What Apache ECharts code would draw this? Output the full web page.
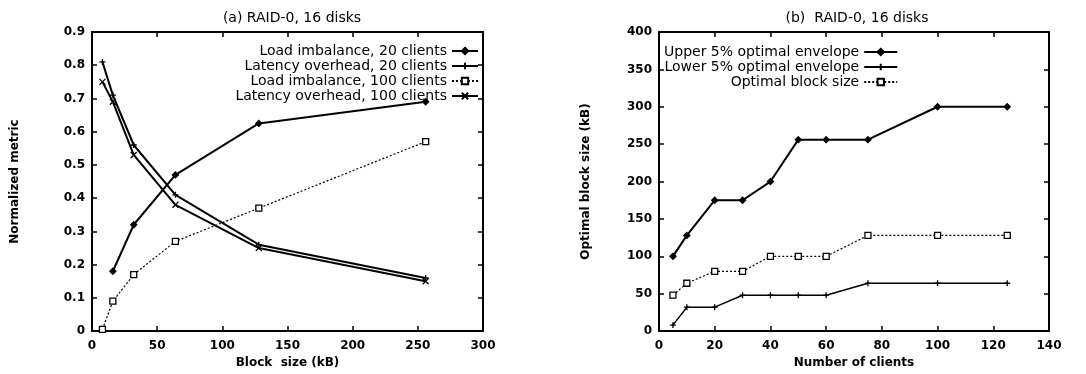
<!DOCTYPE html>
<html><head><meta charset="utf-8">
<script src="https://cdn.jsdelivr.net/npm/echarts@6/dist/echarts.min.js"></script>
<style>html,body{margin:0;padding:0;background:#fff}#c{width:1086px;height:374px}</style>
</head><body><div id="c"></div>
<script>
// ---- Panel (a) data ----
const blockSizes = [8, 16, 32, 64, 128, 256];
const loadImb20 = [null, 0.18, 0.32, 0.47, 0.625, 0.69];
const latOver20 = [0.81, 0.71, 0.56, 0.41, 0.26, 0.16];
const loadImb100 = [0.005, 0.09, 0.17, 0.27, 0.37, 0.57];
const latOver100 = [0.75, 0.69, 0.53, 0.38, 0.25, 0.15];
const namesA = ['Load imbalance, 20 clients', 'Latency overhead, 20 clients', 'Load imbalance, 100 clients', 'Latency overhead, 100 clients'];
// ---- Panel (b) data ----
const clients = [5, 10, 20, 30, 40, 50, 60, 75, 100, 125];
const upperEnv = [100, 128, 175, 175, 200, 256, 256, 256, 300, 300];
const lowerEnv = [8, 32, 32, 48, 48, 48, 48, 64, 64, 64];
const optimalBS = [48, 64, 80, 80, 100, 100, 100, 128, 128, 128];
const namesB = ['Upper 5% optimal envelope', 'Lower 5% optimal envelope', 'Optimal block size'];
const titleA = '(a) RAID-0, 16 disks';
const titleB = '(b)  RAID-0, 16 disks';

const FONT = '"DejaVu Sans", sans-serif';
const pair = (xs, ys) => xs.map((x, i) => [x, ys[i]]).filter(p => p[1] !== null);
const PLUS = 'path://M0,5L10,5M5,0L5,10';
const CROSS = 'path://M0,0L10,10M10,0L0,10';

const axisLine = {show: true, onZero: false, lineStyle: {color: '#000', width: 2}};
const tick = {show: true, inside: true, length: 5, lineStyle: {color: '#000', width: 1.5}};
const lbl = {color: '#000', fontFamily: FONT, fontSize: 12, fontWeight: 'bold'};

function mkX(gi, min, max, interval, name) {
  return [{
    gridIndex: gi, type: 'value', min, max, interval, position: 'bottom',
    axisLine, axisTick: tick, splitLine: {show: false}, axisLabel: Object.assign({margin: 9}, lbl),
    name, nameLocation: 'middle', nameGap: 25,
    nameTextStyle: {color: '#000', fontFamily: FONT, fontSize: 12, fontWeight: 'bold'}
  }, {
    gridIndex: gi, type: 'value', min, max, interval, position: 'top',
    axisLine, axisTick: tick, splitLine: {show: false}, axisLabel: {show: false}
  }];
}
function mkY(gi, min, max, interval, name, gap) {
  return [{
    gridIndex: gi, type: 'value', min, max, interval, position: 'left',
    axisLine, axisTick: tick, splitLine: {show: false}, axisLabel: Object.assign({margin: 7}, lbl),
    name, nameLocation: 'middle', nameGap: gap, nameRotate: 90,
    nameTextStyle: {color: '#000', fontFamily: FONT, fontSize: 12, fontWeight: 'bold'}
  }, {
    gridIndex: gi, type: 'value', min, max, interval, position: 'right',
    axisLine, axisTick: tick, splitLine: {show: false}, axisLabel: {show: false}
  }];
}

function ser(name, xi, yi, data, sym, size, dotted, width, fill) {
  return {
    name, type: 'line', xAxisIndex: xi, yAxisIndex: yi, data,
    symbol: sym, symbolSize: size, showSymbol: true,
    lineStyle: {color: '#000', width: width, type: dotted ? [2, 2] : 'solid'},
    itemStyle: {color: fill, borderColor: '#000', borderWidth: 1.3},
    animation: false
  };
}

const legendText = {color: '#000', fontFamily: FONT, fontSize: 14};

const option = {
  backgroundColor: '#fff',
  animation: false,
  title: [
    {text: titleA, left: 287, top: 6, textAlign: 'center', textStyle: {fontFamily: FONT, fontSize: 14, fontWeight: 'normal', color: '#000'}},
    {text: titleB, left: 852, top: 6, textAlign: 'center', textStyle: {fontFamily: FONT, fontSize: 14, fontWeight: 'normal', color: '#000'}}
  ],
  grid: [
    {left: 92, right: 603, top: 32, bottom: 41, show: false},
    {left: 659, right: 37, top: 32, bottom: 41, show: false}
  ],
  xAxis: [...mkX(0, 0, 300, 50, 'Block  size (kB)'), ...mkX(1, 0, 140, 20, 'Number of clients')],
  yAxis: [...mkY(0, 0, 0.9, 0.1, 'Normalized metric', 71), ...mkY(1, 0, 400, 50, 'Optimal block size (kB)', 67)],
  legend: [
    {data: namesA, orient: 'vertical', right: 1086 - 479, top: 44, align: 'right', itemWidth: 26, itemHeight: 8, itemGap: 1, padding: 0, textStyle: legendText, inactiveColor: '#000'},
    {data: namesB, orient: 'vertical', left: 664, top: 45, align: 'right', itemWidth: 33, itemHeight: 8, itemGap: 1, padding: 0, textStyle: legendText, inactiveColor: '#000'}
  ],
  series: [
    ser(namesA[0], 0, 0, pair(blockSizes, loadImb20), 'diamond', 6, false, 2, '#000'),
    ser(namesA[1], 0, 0, pair(blockSizes, latOver20), PLUS, 6, false, 2, '#000'),
    ser(namesA[2], 0, 0, pair(blockSizes, loadImb100), 'rect', 6, true, 1.2, '#fff'),
    ser(namesA[3], 0, 0, pair(blockSizes, latOver100), CROSS, 6, false, 2, '#000'),
    ser(namesB[0], 2, 2, pair(clients, upperEnv), 'diamond', 6, false, 2, '#000'),
    ser(namesB[1], 2, 2, pair(clients, lowerEnv), PLUS, 6, false, 1.5, '#000'),
    ser(namesB[2], 2, 2, pair(clients, optimalBS), 'rect', 6, true, 1.2, '#fff')
  ]
};
const chart = echarts.init(document.getElementById('c'), null, {renderer: 'canvas'});
chart.setOption(option);
</script></body></html>
